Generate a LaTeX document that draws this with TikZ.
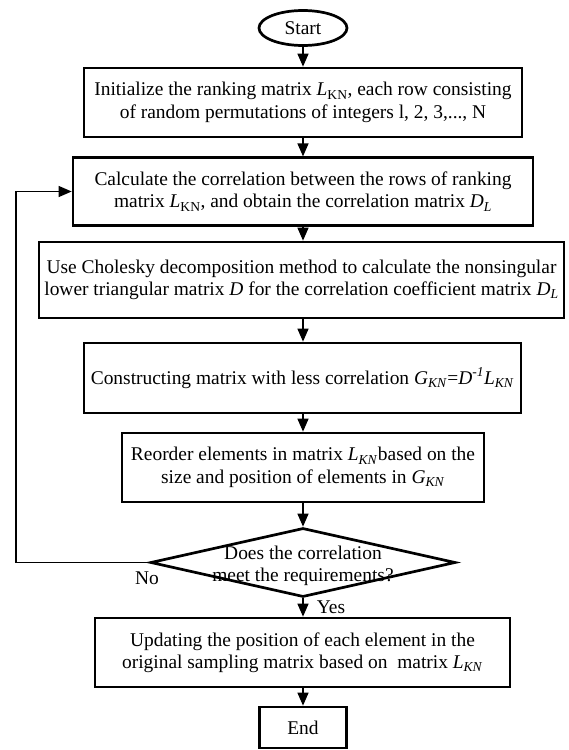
\documentclass[tikz,border=0pt]{standalone}
\usepackage{fontspec}
\setmainfont{Liberation Serif}
\usetikzlibrary{shapes.geometric,arrows.meta}
\newcommand{\mysub}[1]{\textsubscript{#1}}
\newcommand{\Lkn}{\textit{L}\textsubscript{KN}}
\newcommand{\LknI}{\textit{L}\textsubscript{\textit{KN}}}
\begin{document}
\begin{tikzpicture}[x=1bp,y=-1bp,
  txt/.style={font=\fontsize{19.5}{22.5}\selectfont},
  box/.style={draw,line width=2.7bp,inner sep=0pt,align=center,txt},
  conn/.style={line width=1.3bp,-{Triangle[length=13bp,width=11bp]}},
  back/.style={line width=1.1bp,-{Triangle[length=13bp,width=11bp]}}]
\useasboundingbox (0,0) rectangle (569,750);
\fill[white] (0,0) rectangle (569,750);

\node[draw,ellipse,line width=2.7bp,minimum width=88bp,minimum height=35bp,inner sep=0pt,txt] (start) at (303,28) {Start};

\node[box,minimum width=438bp,minimum height=69bp] (b1) at (303,102.5)
  {Initialize the ranking matrix \Lkn, each row consisting\\of random permutations of integers l, 2, 3,..., N};

\node[box,minimum width=460bp,minimum height=67.5bp] (b2) at (303,191.5)
  {Calculate the correlation between the rows of ranking\\matrix \Lkn, and obtain the correlation matrix \textit{D}\mysub{\textit{L}}};

\node[box,minimum width=525bp,minimum height=76bp] (b3) at (301.5,280)
  {Use Cholesky decomposition method to calculate the nonsingular\\lower triangular matrix \textit{D} for the correlation coefficient matrix \textit{D}\mysub{\textit{L}}};

\node[box,minimum width=437bp,minimum height=70bp] (b4) at (302.5,378)
  {Constructing matrix with less correlation \textit{G}\mysub{\textit{KN}}=\textit{D}\textsuperscript{\textit{-1}}\LknI};

\node[box,minimum width=362bp,minimum height=69bp] (b5) at (303,467.5)
  {Reorder elements in matrix \LknI based on the\\size and position of elements in \textit{G}\mysub{\textit{KN}}};

\node[draw,diamond,line width=2.7bp,minimum width=305bp,minimum height=69bp,inner sep=0pt] (d) at (303,562.5) {};
\node[txt,align=center] (dt) at (303,566) {Does the correlation\\meet the requirements?};

\node[box,minimum width=415bp,minimum height=69bp] (b6) at (302.5,652.5)
  {Updating the position of each element in the\\original sampling matrix based on\ \ matrix \LknI};

\node[box,minimum width=87bp,minimum height=41bp] (end) at (303,727.5) {End};

\node[txt] (no) at (147,578) {No};
\node[txt] (yes) at (331,607) {Yes};

\draw[conn] (start.south) -- (start.south |- b1.north);
\draw[conn] (start.south |- b1.south) -- (start.south |- b2.north);
\draw[conn] (start.south |- b2.south) -- (start.south |- b3.north);
\draw[conn] (start.south |- b3.south) -- (start.south |- b4.north);
\draw[conn] (start.south |- b4.south) -- (start.south |- b5.north);
\draw[conn] (start.south |- b5.south) -- (d.north);
\draw[conn] (d.south) -- (d.south |- b6.north);
\draw[conn] (d.south |- b6.south) -- (end.north);

\coordinate (fb) at (16,562.5);
\draw[back] (d.west) -- (fb) |- (b2.west);
\end{tikzpicture}
\end{document}
